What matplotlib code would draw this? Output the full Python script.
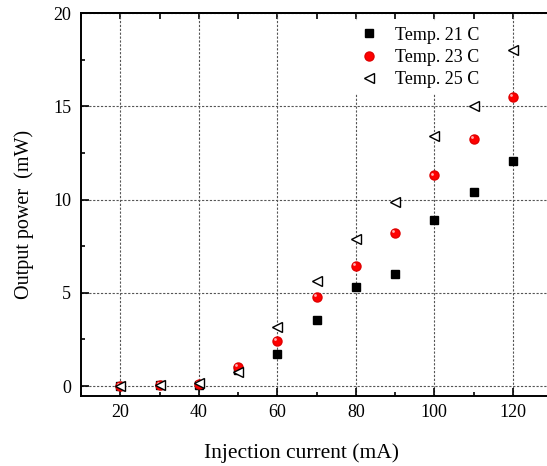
import matplotlib.pyplot as plt
import numpy as np
from matplotlib.ticker import MultipleLocator

plt.rcParams['font.family'] = ['Liberation Serif', 'DejaVu Serif']

current = [20, 30, 40, 50, 60, 70, 80, 90, 100, 110, 120]
p21 = [0.0, 0.03, 0.08, 0.85, 1.73, 3.55, 5.31, 6.0, 8.89, 10.43, 12.1]
p23 = [0.0, 0.04, 0.1, 1.02, 2.42, 4.78, 6.44, 8.23, 11.3, 13.26, 15.5]
p25 = [0.0, 0.05, 0.15, 0.75, 3.17, 5.65, 7.89, 9.85, 13.44, 15.04, 18.03]

fig = plt.figure(figsize=(5.47, 4.66), dpi=100)
ax = fig.add_axes([81/547, 70.3/466, 471/547, 382.4/466])

ax.plot(current, p21, 's', color='black', markersize=5.5, label='Temp. 21 C', zorder=3)
ax.plot(current, p23, 'o', color='red', markeredgecolor='#e00000', markersize=6.5,
        label='Temp. 23 C', zorder=4)
# small highlight on the red balls
ax.plot(np.array(current) - 0.5, np.array(p23) + 0.1, 'o', color='#ffb0b0', markersize=2,
        markeredgewidth=0, zorder=4.5)
ax.plot(current, p25, '<', markerfacecolor='white', markeredgecolor='black',
        markersize=7.5, markeredgewidth=1.0, label='Temp. 25 C', zorder=5)

ax.set_xlim(10, 130)
ax.set_ylim(-0.52, 20)
ax.xaxis.set_major_locator(MultipleLocator(20))
ax.xaxis.set_minor_locator(MultipleLocator(10))
ax.yaxis.set_major_locator(MultipleLocator(5))
ax.yaxis.set_minor_locator(MultipleLocator(2.5))
ax.tick_params(which='both', direction='in', top=False, right=False, labelsize=13, width=1.2)
ax.tick_params(which='major', length=6)
ax.tick_params(which='minor', length=3)
ax.tick_params(axis='y', pad=7)
ax.tick_params(axis='x', pad=6)
ax.spines['right'].set_visible(False)
for s in ['left', 'bottom', 'top']:
    ax.spines[s].set_linewidth(1.4)

# short ticks every 10 on the top axis
top = ax.secondary_xaxis('top')
top.xaxis.set_major_locator(MultipleLocator(10))
top.tick_params(direction='in', length=4, width=1.2, labeltop=False)
top.spines['top'].set_linewidth(1.4)

ax.grid(True, which='major', linestyle=(0, (2, 1.5)), color='#555555', linewidth=0.8)
ax.set_axisbelow(True)

ax.set_xlabel('Injection current (mA)', fontsize=15.5)
ax.xaxis.set_label_coords(0.468, -0.125)
ax.set_ylabel('Output power  (mW)', fontsize=14.5)
ax.yaxis.set_label_coords(-0.1, 0.475)

leg = ax.legend(loc='upper left', bbox_to_anchor=(0.5425, 1.003), frameon=True, fontsize=13,
                handletextpad=0.45, labelspacing=0.3, borderpad=0.3, fancybox=False)
leg.get_frame().set_facecolor('white')
leg.get_frame().set_edgecolor('none')
leg.get_frame().set_alpha(1)

plt.savefig('out.png', dpi=100)
